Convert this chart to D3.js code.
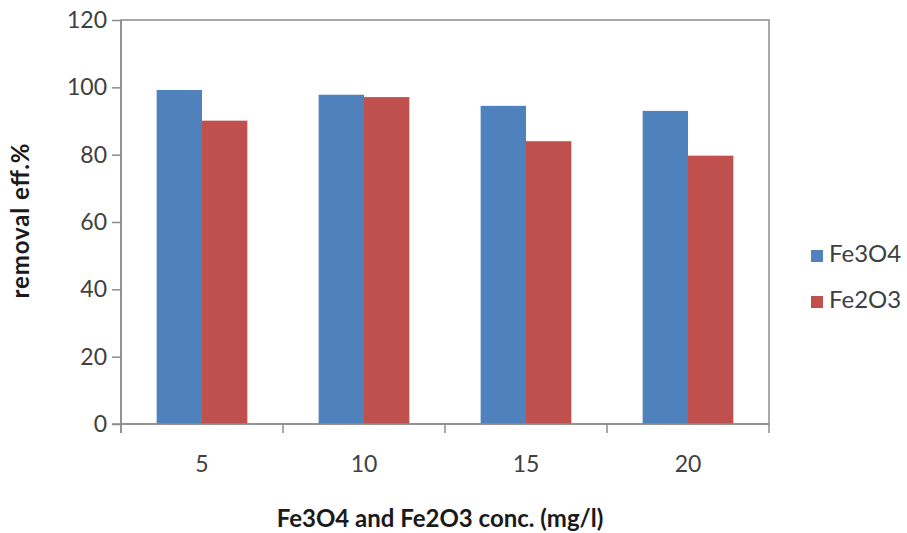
<!DOCTYPE html>
<html>
<head>
<meta charset="utf-8">
<script src="https://cdn.jsdelivr.net/npm/d3@7"></script>
<style>
  html, body { margin: 0; padding: 0; background: #fff; }
  svg { display: block; }
  text { font-family: Lato, "Open Sans", sans-serif; }
</style>
</head>
<body>
<svg id="chart" width="907" height="533"></svg>
<script>
const categories = ["5", "10", "15", "20"];
const seriesNames = ["Fe3O4", "Fe2O3"];
const fe3o4 = [99.2, 97.8, 94.5, 93.0];
const fe2o3 = [90.1, 97.1, 84.0, 79.7];
const yTicks = [0, 20, 40, 60, 80, 100, 120];
const colors = ["#4F81BD", "#C0504D"];

(function draw() {
const svg = d3.select("#chart");
const pLeft = 121, pRight = 769, pTop = 20, pBottom = 424;

const xBand = d3.scaleBand().domain(categories).range([pLeft, pRight]).padding(0);
const xGroup = d3.scaleBand().domain(categories).range([pLeft, pRight]).paddingInner(0.44).paddingOuter(0.22);
const xSeries = d3.scaleBand().domain(seriesNames).range([0, xGroup.bandwidth()]).padding(0);
const y = d3.scaleLinear().domain([0, 120]).range([pBottom, pTop]);

// plot border
svg.append("rect")
  .attr("x", pLeft).attr("y", pTop)
  .attr("width", pRight - pLeft).attr("height", pBottom - pTop)
  .attr("fill", "none").attr("stroke", "#8c8c8c").attr("stroke-width", 1.5);

// bars
const data = [fe3o4, fe2o3];
seriesNames.forEach((s, si) => {
  svg.append("g").selectAll("rect")
    .data(categories)
    .join("rect")
    .attr("x", (c) => xGroup(c) + xSeries(s))
    .attr("width", xSeries.bandwidth())
    .attr("y", (c, i) => y(data[si][i]))
    .attr("height", (c, i) => y(0) - y(data[si][i]))
    .attr("fill", colors[si]);
});

// y axis
const yAxis = svg.append("g")
  .attr("transform", `translate(${pLeft},0)`)
  .call(d3.axisLeft(y).tickValues(yTicks).tickSize(9).tickPadding(5).tickSizeOuter(0));
yAxis.select(".domain").attr("stroke", "#8c8c8c").attr("stroke-width", 1.5)
  .attr("d", `M0,${pTop}V${pBottom + 9}`);
yAxis.selectAll(".tick line").attr("stroke", "#8c8c8c").attr("stroke-width", 1.5);
yAxis.selectAll(".tick text").attr("font-size", 23).attr("fill", "#404040")
  .attr("font-family", "Lato, sans-serif");

// x axis
const xAxis = svg.append("g")
  .attr("transform", `translate(0,${pBottom})`)
  .call(d3.axisBottom(xBand).tickSize(0).tickPadding(32));
xAxis.select(".domain").attr("stroke", "#8c8c8c").attr("stroke-width", 1.5)
  .attr("d", `M${pLeft - 9},0H${pRight}`);
xAxis.selectAll(".tick text").attr("font-size", 23).attr("fill", "#404040")
  .attr("font-family", "Lato, sans-serif");
const boundaries = categories.map(c => xBand(c)).concat([xBand(categories[categories.length - 1]) + xBand.bandwidth()]);
xAxis.append("g").selectAll("line")
  .data(boundaries)
  .join("line")
  .attr("x1", d => d).attr("x2", d => d)
  .attr("y1", 0).attr("y2", 9)
  .attr("stroke", "#8c8c8c").attr("stroke-width", 1.5);

// axis titles
svg.append("text")
  .attr("x", 440).attr("y", 521)
  .attr("text-anchor", "middle").attr("dominant-baseline", "middle")
  .attr("font-size", 24).attr("font-weight", "bold").attr("fill", "#1a1a1a")
  .text("Fe3O4 and Fe2O3 conc. (mg/l)");

svg.append("text")
  .attr("transform", "translate(23,221) rotate(-90)")
  .attr("text-anchor", "middle").attr("dominant-baseline", "middle")
  .attr("font-size", 24).attr("font-weight", "bold").attr("fill", "#1a1a1a")
  .attr("textLength", 155).attr("lengthAdjust", "spacing")
  .text("removal eff.%");

// legend
const legend = svg.append("g");
const legendY = [256, 302];
seriesNames.forEach((s, i) => {
  legend.append("rect")
    .attr("x", 811).attr("y", legendY[i] - 6)
    .attr("width", 12).attr("height", 12)
    .attr("fill", colors[i]);
  legend.append("text")
    .attr("x", 829).attr("y", legendY[i])
    .attr("dominant-baseline", "middle")
    .attr("font-size", 24).attr("fill", "#404040")
    .text(s);
});
})();
</script>
</body>
</html>
